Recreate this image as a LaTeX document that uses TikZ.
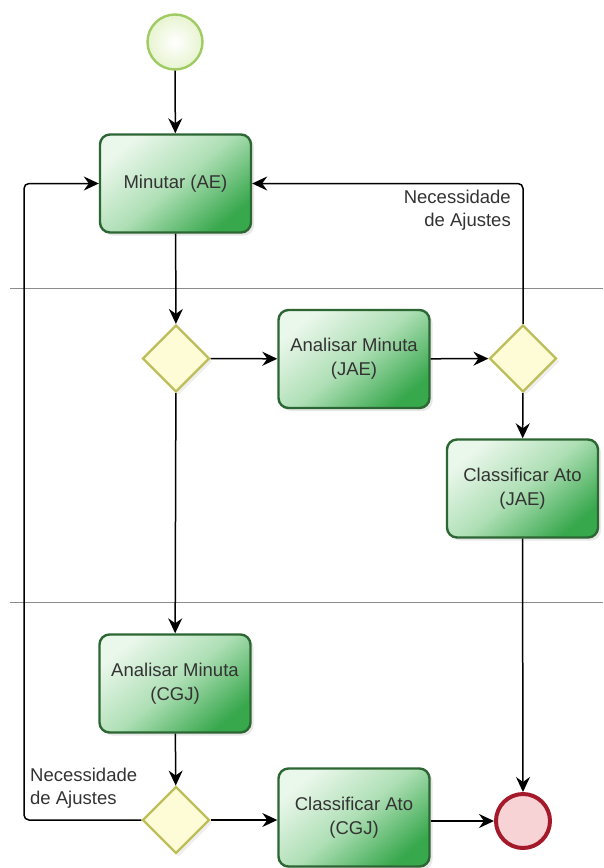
\documentclass[tikz,border=0pt]{standalone}
\usepackage{fontspec}
\setmainfont{Liberation Sans}
\usetikzlibrary{shapes.geometric,arrows.meta,shadows}
\definecolor{txt}{HTML}{333333}
\definecolor{boxborder}{HTML}{2C6633}
\definecolor{boxlight}{HTML}{EAF7EB}
\definecolor{boxmid}{HTML}{AEDFB5}
\definecolor{boxdark}{HTML}{38A84D}
\definecolor{gwfill}{HTML}{FDFCD6}
\definecolor{gwborder}{HTML}{BDBD5A}
\definecolor{stfill}{HTML}{F0FBD2}
\definecolor{stborder}{HTML}{9FCB62}
\definecolor{endfill}{HTML}{F8D3D6}
\definecolor{endborder}{HTML}{A41A2A}
\definecolor{lane}{HTML}{8C8C8C}
\tikzset{
  task/.style={rectangle, rounded corners=10pt, draw=boxborder, line width=2.4pt,
    top color=boxlight, bottom color=boxdark, middle color=boxmid, shading angle=40,
    minimum width=151pt, minimum height=98pt, align=center, text=txt,
    font=\fontsize{18.5}{24}\selectfont,
    drop shadow={opacity=0.18, shadow xshift=3pt, shadow yshift=-3pt}},
  gateway/.style={diamond, aspect=1, draw=gwborder, line width=2.4pt, fill=gwfill,
    minimum width=67pt, minimum height=67pt, inner sep=0pt,
    drop shadow={opacity=0.12, shadow xshift=3pt, shadow yshift=-3pt}},
  startev/.style={circle, draw=stborder, line width=2.4pt, inner color=white, outer color=stfill!70!stborder!60,
    minimum size=55pt, inner sep=0pt},
  endev/.style={circle, draw=endborder, line width=4pt, fill=endfill,
    minimum size=54pt, inner sep=0pt},
  flow/.style={draw=black, line width=1.5pt, -{Stealth[length=15pt, width=14pt, inset=5pt]}},
  lbl/.style={inner sep=0pt, text=txt, font=\fontsize{18.5}{23.5}\selectfont},
  laneline/.style={draw=lane, line width=0.8pt}
}
\begin{document}
\begin{tikzpicture}[x=1pt, y=-1pt]
\useasboundingbox (0,0) rectangle (603,868);
\fill[white] (0,0) rectangle (603,868);
% lanes
\draw[laneline] (10,288) -- (603,288);
\draw[laneline] (10,602) -- (603,602);
% nodes
\node[startev] (start) at (175,42) {};
\node[task] (minutar) at (175.5,183.5) {Minutar (AE)};
\node[gateway] (g1) at (176,358.5) {};
\node[task] (anjae) at (354,359) {Analisar Minuta\\(JAE)};
\node[gateway] (g2) at (523,358.5) {};
\node[task] (cljae) at (522.5,488.5) {Classificar Ato\\(JAE)};
\node[task] (ancgj) at (175,683.5) {Analisar Minuta\\(CGJ)};
\node[gateway] (g3) at (176,820) {};
\node[task] (clcgj) at (354,817.5) {Classificar Ato\\(CGJ)};
\node[endev] (end) at (523,821) {};
% flows
\draw[flow] (start) -- (minutar);
\draw[flow] (minutar) -- (g1);
\draw[flow] (g1) -- (anjae);
\draw[flow] (anjae) -- (g2);
\draw[flow] (g2) -- (cljae);
\draw[flow] (cljae.south) -- (end.north);
\draw[flow] (g1) -- (ancgj);
\draw[flow] (ancgj) -- (g3);
\draw[flow] (g3) -- (clcgj.west |- g3);
\draw[flow] (clcgj.east |- end) -- (end.west);
\draw[flow, rounded corners=5pt] (g2.north) |- (minutar.east);
\draw[flow, rounded corners=5pt] (g3.west) -- (24,820) |- (minutar.west);
% labels
\node[lbl, align=right, anchor=east] (lab1) at (511,210) {Necessidade\\de Ajustes};
\node[lbl, align=left, anchor=west] (lab2) at (30,788) {Necessidade\\de Ajustes};
\end{tikzpicture}
\end{document}
